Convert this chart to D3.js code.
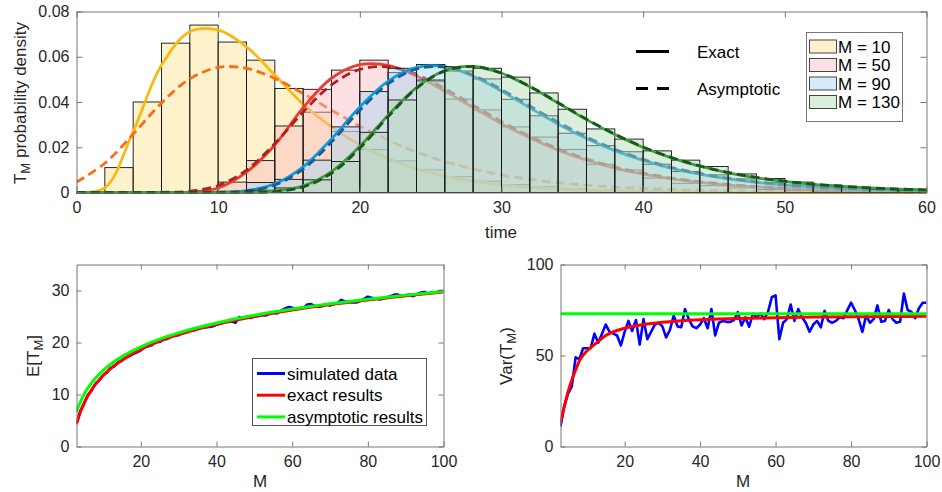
<!DOCTYPE html>
<html>
<head>
<meta charset="utf-8">
<script src="https://cdn.jsdelivr.net/npm/d3@7"></script>
<style>
body { margin: 0; background: #fff; }
svg { font-family: "Liberation Sans", Arial, Helvetica, sans-serif; }
.tick text { font-size: 16px; fill: #262626; }
</style>
</head>
<body>
<svg id="chart" width="942" height="492"></svg>
<script>
// ---------- top panel: histograms of T_M ----------
var binStart = [0,2,4,6,8,10,12,14,16,18,20,22,24,26,28,30,32,34,36,38,40,42,44,46,48,50,52,54,56,58];
var binWidth = 2;
var hist10  = [0,0.011,0.040,0.066,0.074,0.0665,0.0585,0.046,0.0355,0.027,0.019,0.014,0.010,0.007,0.005,0.0035,0.0025,0.0017,0.0012,0.0008,0.0005,0.0003,0.0002,0.0001,0,0,0,0,0,0];
var hist50  = [0,0,0,0,0.0005,0.0046,0.0141,0.0294,0.0456,0.0541,0.0585,0.053,0.049,0.0413,0.0365,0.029,0.0245,0.019,0.0125,0.010,0.0064,0.0041,0.003,0.002,0.0013,0.0008,0.0005,0.0003,0.0002,0.0001];
var hist90  = [0,0,0,0,0,0.0005,0.0044,0.0058,0.0143,0.029,0.0446,0.0549,0.0566,0.0537,0.0502,0.0412,0.0339,0.0262,0.0207,0.018,0.0125,0.0093,0.0078,0.006,0.0045,0.0032,0.0022,0.0015,0.001,0.0006];
var hist130 = [0,0,0,0,0,0,0.001,0.002,0.0056,0.0137,0.0266,0.0409,0.0497,0.0556,0.0549,0.051,0.044,0.0368,0.0281,0.0236,0.0184,0.0143,0.0115,0.0082,0.0062,0.0046,0.0033,0.0022,0.0015,0.0009];

var curveTime = [0,2,4,6,8,10,12,14,16,18,20,22,24,26,28,30,32,34,36,38,40,42,44,46,48,50,52,54,56,58,60];
var exact10  = [0,0.002,0.027,0.0563,0.071,0.0718,0.0644,0.0519,0.039,0.029,0.021,0.015,0.0105,0.0073,0.005,0.0034,0.0023,0.0016,0.0011,0.0007,0.0005,0.0003,0.0002,0.0001,0,0,0,0,0,0,0];
var asym10   = [0.00457,0.01294,0.02577,0.03959,0.05023,0.0553,0.05488,0.05041,0.04373,0.03638,0.02934,0.02312,0.01791,0.0137,0.01039,0.00782,0.00586,0.00437,0.00326,0.00242,0.0018,0.00133,0.00098,0.00073,0.00054,0.0004,0.00029,0.00022,0.00016,0.00012,0.00009];
var exact50  = [0,0,0,0,0.0002,0.002,0.009,0.021,0.0375,0.0505,0.0565,0.0562,0.0515,0.0448,0.0375,0.0304,0.0241,0.0187,0.0143,0.0108,0.0081,0.006,0.0045,0.0033,0.0025,0.0018,0.0013,0.001,0.0007,0.0005,0.0004];
var asym50   = [0,0,0,0.00005,0.00057,0.00308,0.00988,0.02162,0.0356,0.04756,0.05441,0.05551,0.05206,0.04586,0.03858,0.03138,0.02488,0.01936,0.01487,0.0113,0.00853,0.0064,0.00478,0.00356,0.00265,0.00196,0.00145,0.00108,0.0008,0.00059,0.00044];
var exact90  = [0,0,0,0,0,0.0001,0.0008,0.0038,0.0113,0.0237,0.0378,0.0492,0.0553,0.0556,0.0514,0.0448,0.0374,0.0302,0.0239,0.0185,0.0142,0.0107,0.0081,0.006,0.0045,0.0033,0.0025,0.0018,0.0013,0.001,0.0007];
var asym90   = [0,0,0,0,0,0.00006,0.00063,0.00329,0.01036,0.02229,0.03629,0.04803,0.05459,0.05544,0.0518,0.04552,0.03821,0.03103,0.02458,0.01912,0.01467,0.01114,0.00841,0.0063,0.00471,0.0035,0.0026,0.00193,0.00143,0.00106,0.00079];
var exact130 = [0,0,0,0,0,0,0.00005,0.0006,0.0029,0.0092,0.0204,0.0342,0.0464,0.0539,0.0557,0.0527,0.0467,0.0395,0.0322,0.0256,0.0199,0.0153,0.0116,0.0087,0.0065,0.0049,0.0036,0.0027,0.002,0.0015,0.0011];
var asym130  = [0,0,0,0,0,0,0.00003,0.00042,0.00248,0.00852,0.01961,0.03353,0.04605,0.05376,0.05568,0.0528,0.0469,0.0397,0.03241,0.02579,0.02012,0.01547,0.01178,0.00889,0.00668,0.00499,0.00372,0.00277,0.00205,0.00152,0.00113];

var groupNames = ["M = 10", "M = 50", "M = 90", "M = 130"];
var timeTicks = [0,10,20,30,40,50,60];
var densityTicks = [0,0.02,0.04,0.06,0.08];

// ---------- bottom panels: mean and variance vs M ----------
var mValues = [3,4,5,6,7,8,9,10,11,12,13,14,15,16,17,18,19,20,21,22,23,24,25,26,27,28,29,30,31,32,33,34,35,36,37,38,39,40,41,42,43,44,45,46,47,48,49,50,51,52,53,54,55,56,57,58,59,60,61,62,63,64,65,66,67,68,69,70,71,72,73,74,75,76,77,78,79,80,81,82,83,84,85,86,87,88,89,90,91,92,93,94,95,96,97,98,99,100];
var meanSim = [4.3,6.8,8.2,9.9,10.8,12.1,12.7,13.7,14.2,15.1,15.4,16.2,16.5,17.1,17.4,17.8,18.1,18.5,19.1,19.3,19.5,20.1,20.1,20.6,20.7,21.2,21.3,21.4,21.8,21.9,22.3,22.3,22.6,22.9,22.9,23.0,23.1,23.4,23.6,23.9,24.0,24.1,23.8,24.9,24.6,24.9,24.7,25.0,25.1,25.3,25.2,25.5,25.7,25.6,26.1,26.5,26.8,26.7,26.4,26.6,26.7,27.3,27.4,27.0,26.9,27.0,27.3,27.1,27.4,27.6,28.2,27.9,27.8,27.7,27.7,28.0,28.4,28.8,28.6,28.5,28.3,28.4,28.7,28.9,29.2,29.2,28.9,29.1,29.2,28.9,29.3,29.6,29.7,29.4,29.7,29.6,29.9,29.9];
var varSim = [11,22,29,33,49,48,54,54,54,62,57,62,67,63,62,61,55.5,63,69,63.5,69.5,56,70,59,63,67,68,66,60,64,72,66,65.5,75.5,70,66,65,67,70.5,65,75.5,61,68,69,68.5,68.5,69.5,73.8,66.5,71,65.8,73,71,73,70,74,82,83,59,68,70,78,69,75.5,71,68,63,67,69,65.5,74.5,69,68,69,71,70.5,74.8,79,75,70,63,72,68,70,77.5,68.5,69,75,70,68,68.5,84,75,74,70.5,76,79,79];

var curveM    = [3,4,5,6,7,8,10,12,15,20,25,30,40,50,60,70,80,90,100];
var meanExact = [4.36,6.61,8.33,9.74,10.90,11.93,13.61,14.96,16.58,18.68,20.25,21.51,23.49,25.01,26.25,27.29,28.19,28.99,29.69];
var meanAsym  = [6.66,8.56,10.03,11.24,12.25,13.13,14.61,15.81,17.28,19.18,20.65,21.86,23.76,25.23,26.43,27.45,28.33,29.11,29.80];
var varExact  = [12.8,22,30,36.5,42,47,52.5,56,61,65,67,68.3,69.7,70.3,70.8,71.1,71.3,71.4,71.5];
var varAsym   = [73,73,73,73,73,73,73,73,73,73,73,73,73,73,73,73,73,73,73];

var mTicks = [20,40,60,80,100];
var meanTicks = [0,10,20,30];
var varTicks = [0,50,100];
var bottomLegend = ["simulated data", "exact results", "asymptotic results"];

// ---------- helpers ----------
var svg = d3.select("#chart");
var textColor = "#262626", axisColor = "#777";

function frame(x, y, xTicks, yTicks, yFmt, tick) {
  var xr = x.range(), yr = y.range();
  var g = svg.append("g");
  g.append("g").attr("transform", "translate(0," + yr[0] + ")")
    .call(d3.axisBottom(x).tickValues(xTicks).tickSize(-tick).tickSizeOuter(0).tickPadding(9));
  g.append("g").attr("transform", "translate(0," + yr[1] + ")")
    .call(d3.axisTop(x).tickValues(xTicks).tickSize(-tick).tickSizeOuter(0).tickFormat(""));
  g.append("g").attr("transform", "translate(" + xr[0] + ",0)")
    .call(d3.axisLeft(y).tickValues(yTicks).tickSize(-tick).tickSizeOuter(0).tickPadding(7).tickFormat(yFmt));
  g.append("g").attr("transform", "translate(" + xr[1] + ",0)")
    .call(d3.axisRight(y).tickValues(yTicks).tickSize(-tick).tickSizeOuter(0).tickFormat(""));
  g.selectAll(".domain, .tick line").attr("stroke", axisColor);
  return g;
}

function clipFor(id, x, y) {
  var xr = x.range(), yr = y.range();
  svg.append("clipPath").attr("id", id).append("rect")
    .attr("x", xr[0]).attr("y", yr[1] - 2)
    .attr("width", xr[1] - xr[0]).attr("height", yr[0] - yr[1] + 4);
}

function rotLabel(x, y, main, sub, rest) {
  var t = svg.append("text")
    .attr("transform", "translate(" + x + "," + y + ") rotate(-90)")
    .attr("text-anchor", "middle").attr("fill", textColor).style("font-size", "17px");
  t.append("tspan").text(main);
  t.append("tspan").attr("dy", 4).style("font-size", "13px").text(sub);
  t.append("tspan").attr("dy", -4).text(rest);
}

// ---------- top panel ----------
var xT = d3.scaleLinear().domain([0, 60]).range([76.5, 926.5]);
var yT = d3.scaleLinear().domain([0, 0.08]).range([192.5, 11.5]);
clipFor("clipTop", xT, yT);

var series = [
  { hist: hist10,  exact: exact10,  asym: asym10,  fill: "#fbe28e", line: "#f9b90f", dash: "#ff6a10" },
  { hist: hist50,  exact: exact50,  asym: asym50,  fill: "#fabac1", line: "#ec3b30", dash: "#b01f1c" },
  { hist: hist90,  exact: exact90,  asym: asym90,  fill: "#a4d5f4", line: "#0b9de0", dash: "#1b5e95" },
  { hist: hist130, exact: exact130, asym: asym130, fill: "#afd9b3", line: "#3e9d3c", dash: "#17561c" }
];

var densityLine = function(vals) {
  return d3.line()
    .x(function(d, i) { return xT(curveTime[i]); })
    .y(function(d) { return yT(d); })
    .curve(d3.curveCatmullRom)(vals);
};

var plotTop = svg.append("g").attr("clip-path", "url(#clipTop)");
series.forEach(function(s) {
  plotTop.append("g").selectAll("rect")
    .data(binStart.filter(function(b, i) { return s.hist[i] > 0; }))
    .enter().append("rect")
    .attr("x", function(b) { return xT(b); })
    .attr("width", function(b) { return xT(b + binWidth) - xT(b); })
    .attr("y", function(b) { return yT(s.hist[binStart.indexOf(b)]); })
    .attr("height", function(b) { return yT(0) - yT(s.hist[binStart.indexOf(b)]); })
    .attr("fill", s.fill).attr("fill-opacity", 0.45)
    .attr("stroke", "#111").attr("stroke-width", 0.9);
  plotTop.append("path").attr("d", densityLine(s.exact))
    .attr("fill", "none").attr("stroke", s.line).attr("stroke-width", 2.8);
  plotTop.append("path").attr("d", densityLine(s.asym))
    .attr("fill", "none").attr("stroke", s.dash).attr("stroke-width", 2.8)
    .attr("stroke-dasharray", "9,5");
});

frame(xT, yT, timeTicks, densityTicks, function(d) { return d === 0 ? "0" : d3.format(".2f")(d); }, 6);

svg.append("text").attr("x", 501).attr("y", 238).attr("text-anchor", "middle")
  .attr("fill", textColor).style("font-size", "17px").text("time");
rotLabel(26, 103, "T", "M", " probability density");

// line-style legend
var styleLegend = svg.append("g");
[["Exact", null, 51.5], ["Asymptotic", "12,9", 88.5]].forEach(function(r) {
  styleLegend.append("line").attr("x1", 636).attr("x2", 669).attr("y1", r[2]).attr("y2", r[2])
    .attr("stroke", "#000").attr("stroke-width", 2.8).attr("stroke-dasharray", r[1]);
  styleLegend.append("text").attr("x", 697).attr("y", r[2] + 6)
    .attr("fill", "#000").style("font-size", "17px").text(r[0]);
});

// group legend
var groupLegend = svg.append("g");
groupLegend.append("rect").attr("x", 806.5).attr("y", 32.5).attr("width", 96).attr("height", 89)
  .attr("fill", "#fff").attr("stroke", "#777");
groupNames.forEach(function(name, i) {
  var cy = 46.5 + i * 18.5;
  groupLegend.append("rect").attr("x", 809.5).attr("y", cy - 6.5).attr("width", 27).attr("height", 13)
    .attr("fill", series[i].fill).attr("fill-opacity", 0.45).attr("stroke", "#444");
  groupLegend.append("text").attr("x", 838).attr("y", cy + 6)
    .attr("fill", "#000").style("font-size", "17px").text(name);
});

// ---------- bottom panels ----------
var xL = d3.scaleLinear().domain([3, 100]).range([76.5, 443.5]);
var yL = d3.scaleLinear().domain([0, 35]).range([446.5, 264.5]);
var xR = d3.scaleLinear().domain([3, 100]).range([560.5, 926.5]);
var yR = d3.scaleLinear().domain([0, 100]).range([446.5, 264.5]);
clipFor("clipL", xL, yL);
clipFor("clipR", xR, yR);

function mLine(x, y, ms) {
  return d3.line().x(function(d, i) { return x(ms[i]); }).y(function(d) { return y(d); });
}

var plotL = svg.append("g").attr("clip-path", "url(#clipL)");
plotL.append("path").attr("d", mLine(xL, yL, mValues)(meanSim))
  .attr("fill", "none").attr("stroke", "#0000ff").attr("stroke-width", 2.6).attr("stroke-linejoin", "round");
plotL.append("path").attr("d", mLine(xL, yL, curveM).curve(d3.curveMonotoneX)(meanExact))
  .attr("fill", "none").attr("stroke", "#ff0000").attr("stroke-width", 3);
plotL.append("path").attr("d", mLine(xL, yL, curveM).curve(d3.curveMonotoneX)(meanAsym))
  .attr("fill", "none").attr("stroke", "#00ff00").attr("stroke-width", 3);
frame(xL, yL, mTicks, meanTicks, d3.format("d"), 5);

var plotR = svg.append("g").attr("clip-path", "url(#clipR)");
plotR.append("path").attr("d", mLine(xR, yR, mValues)(varSim))
  .attr("fill", "none").attr("stroke", "#0000ff").attr("stroke-width", 2.6).attr("stroke-linejoin", "round");
plotR.append("path").attr("d", mLine(xR, yR, curveM).curve(d3.curveMonotoneX)(varExact))
  .attr("fill", "none").attr("stroke", "#ff0000").attr("stroke-width", 3);
plotR.append("path").attr("d", mLine(xR, yR, curveM)(varAsym))
  .attr("fill", "none").attr("stroke", "#00ff00").attr("stroke-width", 3);
frame(xR, yR, mTicks, varTicks, d3.format("d"), 5);

svg.append("text").attr("x", 260).attr("y", 487).attr("text-anchor", "middle")
  .attr("fill", textColor).style("font-size", "17px").text("M");
svg.append("text").attr("x", 743).attr("y", 487).attr("text-anchor", "middle")
  .attr("fill", textColor).style("font-size", "17px").text("M");
rotLabel(39, 356, "E[T", "M", "]");
rotLabel(512, 356, "Var(T", "M", ")");

// bottom legend
var lineLegend = svg.append("g");
lineLegend.append("rect").attr("x", 252.5).attr("y", 358.5).attr("width", 174).attr("height", 67)
  .attr("fill", "#fff").attr("stroke", "#555");
var legendColors = ["#0000ff", "#ff0000", "#00ff00"];
bottomLegend.forEach(function(name, i) {
  var cy = 373.5 + i * 21.7;
  lineLegend.append("line").attr("x1", 257).attr("x2", 285).attr("y1", cy).attr("y2", cy)
    .attr("stroke", legendColors[i]).attr("stroke-width", 3);
  lineLegend.append("text").attr("x", 287).attr("y", cy + 6)
    .attr("fill", "#000").style("font-size", "17px").text(name);
});
</script>
</body>
</html>
